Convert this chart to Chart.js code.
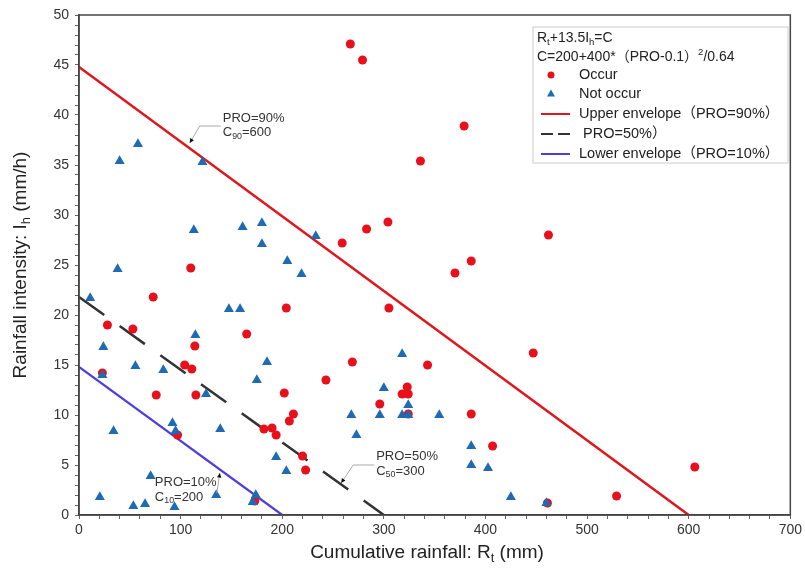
<!DOCTYPE html>
<html>
<head>
<meta charset="utf-8">
<script src="https://cdn.jsdelivr.net/npm/chart.js@4"></script>
<style>
  html, body { margin: 0; padding: 0; background: #fff; }
  #wrap { width: 805px; height: 568px; }
</style>
</head>
<body>
<div id="wrap"><canvas id="chart" width="805" height="568"></canvas></div>
<script>
// rainfall events that triggered (Occur)
const occurRt = [267, 279, 379, 336, 304, 283, 259, 386, 462, 370, 110, 73, 204, 305, 28, 53, 165, 114, 447, 104,
  111, 269, 343, 23, 243, 76, 115, 202, 323, 318, 324, 296, 211, 324, 386, 207, 182, 190, 194, 97,
  407, 220, 223, 173, 461, 529, 606]
const occurIh = [47.1, 45.5, 38.9, 35.4, 29.3, 28.6, 27.2, 25.4, 28.0, 24.2, 24.7, 21.8, 20.7, 20.7, 19.0, 18.6, 18.1, 16.9, 16.2, 15.0,
  14.6, 15.3, 15.0, 14.2, 13.5, 12.0, 12.0, 12.2, 12.8, 12.1, 12.1, 11.1, 10.1, 10.1, 10.1, 9.4, 8.6, 8.7, 8.0, 8.0,
  6.9, 5.9, 4.5, 1.4, 1.2, 1.9, 4.8]

// rainfall events without failure (Not occur)
const notRt = [40, 58, 121.5, 113, 161, 180, 180, 233, 205, 219, 38, 11, 147.5, 158.5, 114.5, 24, 318, 185, 55.5, 83,
  23, 175, 300, 125, 324, 296, 268, 318, 324, 354.5, 92, 34, 95, 139, 273, 386, 194, 204, 386, 402.5,
  70.5, 20.5, 53.5, 65, 94, 135, 174, 171, 425, 460]
const notIh = [35.4, 37.1, 35.3, 28.5, 28.8, 29.2, 27.1, 27.9, 25.4, 24.1, 24.6, 21.7, 20.6, 20.6, 18.0, 16.8, 16.1, 15.3, 14.9, 14.5,
  14.0, 13.5, 12.7, 12.1, 11.0, 10.0, 10.0, 10.0, 10.0, 10.0, 9.2, 8.4, 8.4, 8.6, 8.0, 6.9, 5.8, 4.4, 5.0, 4.7,
  3.9, 1.8, 0.9, 1.1, 0.8, 2.0, 2.0, 1.3, 1.8, 1.2]

// threshold lines Rt + 13.5 Ih = C
const upperRt = [0, 600], upperIh = [44.8, 0]
const midRt = [0, 300], midIh = [21.8, 0]
const lowerRt = [0, 200], lowerIh = [14.8, 0]

// axis ranges
const xMax = 700, xMajor = 100, xMinor = 20
const yMax = 50, yMajor = 5, yMinor = 1

// line labels (anchor in data units)
const annoPro = ['PRO=90%', 'PRO=50%', 'PRO=10%']
const annoSub = ['90', '50', '10']
const annoVal = ['=600', '=300', '=200']
const annoAtRt = [109, 258, 138.6]
const annoAtIh = [37.2, 3.2, 4.2]

const FONT = "'Liberation Sans', Arial, 'Noto Sans CJK SC', sans-serif"

function pts(xs, ys) {
  return xs.map((x, i) => ({x: x, y: ys[i]}))
}

// text with sub/superscripts: parts = [[text, ''|'sub'|'sup'], ...]
function drawRich(ctx, parts, x, y, size, align) {
  let w = 0
  for (let p of parts) {
    ctx.font = (p[1] ? size * 0.68 : size) + 'px ' + FONT
    w += ctx.measureText(p[0]).width
  }
  let cx = align == 'center' ? x - w / 2 : x
  ctx.textBaseline = 'middle'
  ctx.textAlign = 'left'
  for (let p of parts) {
    ctx.font = (p[1] ? size * 0.68 : size) + 'px ' + FONT
    let dy = p[1] == 'sub' ? size * 0.3 : p[1] == 'sup' ? -size * 0.35 : 0
    ctx.fillText(p[0], cx, y + dy)
    cx += ctx.measureText(p[0]).width
  }
}

function arrowHead(ctx, x, y, fromX, fromY) {
  let a = Math.atan2(y - fromY, x - fromX)
  ctx.beginPath()
  ctx.moveTo(x, y)
  ctx.lineTo(x - 5 * Math.cos(a - 0.45), y - 5 * Math.sin(a - 0.45))
  ctx.lineTo(x - 5 * Math.cos(a + 0.45), y - 5 * Math.sin(a + 0.45))
  ctx.closePath()
  ctx.fill()
}

// leader shapes relative to anchor (px): knee, end, text left, first line dy
const leaders = [
  {knee: [10, -17], end: [31, -17], tx: 33, ty: -25},
  {knee: [12, -18], end: [33, -18], tx: 35, ty: -26.5},
  {knee: [-3, 20], end: [-3, 20], tx: -65, ty: 9.5}
]

const extras = {
  id: 'extras',
  afterDatasetsDraw(chart) {
    let ctx = chart.ctx
    let a = chart.chartArea
    let xs = chart.scales.x, ys = chart.scales.y
    ctx.save()
    // frame
    ctx.strokeStyle = '#444'
    ctx.lineWidth = 1.5
    ctx.strokeRect(a.left, a.top, a.right - a.left, a.bottom - a.top)

    // line annotations
    for (let i = 0; i < annoPro.length; i++) {
      let px = xs.getPixelForValue(annoAtRt[i])
      let py = ys.getPixelForValue(annoAtIh[i])
      let l = leaders[i]
      ctx.strokeStyle = '#aaa'
      ctx.lineWidth = 1
      ctx.beginPath()
      ctx.moveTo(px, py)
      ctx.lineTo(px + l.knee[0], py + l.knee[1])
      ctx.lineTo(px + l.end[0], py + l.end[1])
      ctx.stroke()
      ctx.fillStyle = '#111'
      arrowHead(ctx, px, py, px + l.knee[0], py + l.knee[1])
      ctx.fillStyle = '#333'
      drawRich(ctx, [[annoPro[i], '']], px + l.tx, py + l.ty, 13, 'left')
      drawRich(ctx, [['C', ''], [annoSub[i], 'sub'], [annoVal[i], '']], px + l.tx, py + l.ty + 14.5, 13, 'left')
    }
    ctx.restore()
  },
  afterDraw(chart) {
    let ctx = chart.ctx
    let a = chart.chartArea
    ctx.save()
    // axis titles
    ctx.fillStyle = '#222'
    drawRich(ctx, [['Cumulative rainfall: R', ''], ['t', 'sub'], [' (mm)', '']], 427, 553, 19, 'center')
    ctx.save()
    ctx.translate(21, (a.top + a.bottom) / 2)
    ctx.rotate(-Math.PI / 2)
    drawRich(ctx, [['Rainfall intensity: I', ''], ['h', 'sub'], [' (mm/h)', '']], 0, 0, 19, 'center')
    ctx.restore()

    // legend box
    let bx = 533, by = 27, bw = 255, bh = 136
    ctx.fillStyle = '#fff'
    ctx.fillRect(bx, by, bw, bh)
    ctx.strokeStyle = '#ccc'
    ctx.lineWidth = 1
    ctx.strokeRect(bx, by, bw, bh)
    ctx.fillStyle = '#222'
    drawRich(ctx, [['R', ''], ['t', 'sub'], ['+13.5I', ''], ['h', 'sub'], ['=C', '']], 537, 38, 14, 'left')
    drawRich(ctx, [['C=200+400*（PRO-0.1）', ''], ['2', 'sup'], ['/0.64', '']], 537, 57, 14, 'left')

    let rowY = [75, 94, 114, 134, 154]
    chart.data.datasets.forEach((ds, i) => {
      let y = rowY[i]
      ctx.save()
      if (ds.showLine) {
        ctx.strokeStyle = ds.borderColor
        ctx.lineWidth = 2
        ctx.setLineDash(ds.borderDash ? [12, 5] : [])
        ctx.beginPath()
        ctx.moveTo(541, y)
        ctx.lineTo(570, y)
        ctx.stroke()
      } else {
        ctx.fillStyle = ds.backgroundColor
        ctx.beginPath()
        if (ds.pointStyle == 'triangle') {
          ctx.moveTo(551, y - 4.5)
          ctx.lineTo(555, y + 2.5)
          ctx.lineTo(547, y + 2.5)
        } else {
          ctx.arc(551, y, 3.5, 0, Math.PI * 2)
        }
        ctx.fill()
      }
      ctx.restore()
      ctx.fillStyle = '#222'
      drawRich(ctx, [[ds.label, '']], 579, y, 14.5, 'left')
    })
    ctx.restore()
  }
}

let ctx = document.getElementById('chart').getContext('2d')
let chart = new Chart(ctx, {
  type: 'scatter',
  data: {
    datasets: [
      {
        label: 'Occur',
        data: pts(occurRt, occurIh),
        pointStyle: 'circle',
        pointRadius: 4.5,
        backgroundColor: '#e8101a',
        borderColor: '#e8101a',
        borderWidth: 0,
        order: 1
      },
      {
        label: 'Not occur',
        data: pts(notRt, notIh),
        pointStyle: 'triangle',
        pointRadius: 5.8,
        backgroundColor: '#1e6bb3',
        borderColor: '#1e6bb3',
        borderWidth: 0,
        order: 0
      },
      {
        label: 'Upper envelope（PRO=90%）',
        data: pts(upperRt, upperIh),
        showLine: true,
        pointRadius: 0,
        borderColor: '#e0161d',
        borderWidth: 2.5,
        order: 3
      },
      {
        label: ' PRO=50%）',
        data: pts(midRt, midIh),
        showLine: true,
        pointRadius: 0,
        borderColor: '#333',
        borderWidth: 2.5,
        borderDash: [31, 19],
        order: 3
      },
      {
        label: 'Lower envelope（PRO=10%）',
        data: pts(lowerRt, lowerIh),
        showLine: true,
        pointRadius: 0,
        borderColor: '#4a3ee0',
        borderWidth: 2.2,
        order: 3
      }
    ]
  },
  options: {
    responsive: false,
    animation: false,
    layout: {
      padding: {top: 15, right: 14, left: 0, bottom: 0}
    },
    plugins: {
      legend: {display: false},
      tooltip: {enabled: false}
    },
    scales: {
      x: {
        type: 'linear',
        min: 0,
        max: xMax,
        afterFit: (s) => { s.height = 53 },
        border: {color: '#444', width: 1.5},
        grid: {drawOnChartArea: false, tickLength: 4, color: '#666'},
        ticks: {
          stepSize: xMinor,
          autoSkip: false,
          maxRotation: 0,
          padding: 3,
          color: '#333',
          font: {family: FONT, size: 14},
          callback: (v) => v % xMajor == 0 ? v : ''
        }
      },
      y: {
        type: 'linear',
        min: 0,
        max: yMax,
        afterFit: (s) => { s.width = 79 },
        border: {color: '#444', width: 1.5},
        grid: {drawOnChartArea: false, tickLength: 4, color: '#666'},
        ticks: {
          stepSize: yMinor,
          autoSkip: false,
          padding: 6,
          color: '#333',
          font: {family: FONT, size: 14},
          callback: (v) => v % yMajor == 0 ? v : ''
        }
      }
    }
  },
  plugins: [extras]
})
</script>
</body>
</html>
